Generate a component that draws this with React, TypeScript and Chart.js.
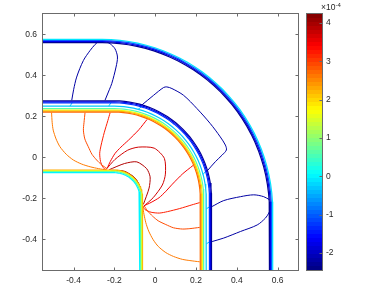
import React, { useEffect, useRef } from "react";
import { Chart, registerables } from "chart.js";

Chart.register(...registerables);

type P = [number, number];

const X_MIN = -0.55, X_MAX = 0.7, Y_MIN = -0.55, Y_MAX = 0.7;
const xTickValues = [-0.4, -0.2, 0, 0.2, 0.4, 0.6];
const yTickValues = [-0.4, -0.2, 0, 0.2, 0.4, 0.6];
const cbTickValues = [-2, -1, 0, 1, 2, 3, 4];
const CB_MIN = -2.44, CB_MAX = 4.23;

// boundary-layer contours: offset of the straight parts, level (x1e-4)
const innerBandOffsets = [-0.075, -0.07, -0.066, -0.062];
const innerBandLevels = [0.0, 0.8, 1.6, 2.3];
const innerBandCorner = -0.2;
const midBandOffsets = [0.221, 0.226, 0.231, 0.238, 0.25, 0.266, 0.271, 0.276];
const midBandLevels = [2.7, 2.2, 1.6, 0.6, -0.3, -1.3, -1.8, -2.3];
const midBandCorner = -0.2;
const outerBandOffsets = [0.56, 0.565, 0.57, 0.576];
const outerBandLevels = [-2.3, -1.7, -1.0, -0.1];
const outerBandCorner = -0.26;

// outer-region closed contours (level -2.2)
const lensTopA: P[] = [[-0.409, 0.279], [-0.4, 0.33], [-0.385, 0.392], [-0.352, 0.473], [-0.319, 0.522], [-0.295, 0.551], [-0.285, 0.56]];
const lensTopB: P[] = [[-0.246, 0.279], [-0.225, 0.33], [-0.213, 0.36], [-0.192, 0.441], [-0.185, 0.49], [-0.197, 0.53], [-0.221, 0.555], [-0.235, 0.562]];
const lensMid: P[] = [[-0.065, 0.256], [-0.008, 0.303], [0.041, 0.341], [0.057, 0.344], [0.082, 0.336], [0.139, 0.303], [0.205, 0.238], [0.27, 0.165], [0.319, 0.1], [0.344, 0.06], [0.349, 0.036], [0.328, 0.011], [0.295, -0.021], [0.256, -0.065]];
const lensSideA: P[] = [[0.279, -0.411], [0.336, -0.394], [0.418, -0.362], [0.5, -0.33], [0.54, -0.297], [0.557, -0.272], [0.562, -0.26]];
const lensSideB: P[] = [[0.279, -0.24], [0.336, -0.211], [0.418, -0.192], [0.483, -0.183], [0.532, -0.192], [0.562, -0.208]];
const lensLevel = -2.2;

// small kinks of the -0.3 contour at the junctions
const kinkA: P[] = [[-0.418, 0.25], [-0.406, 0.268]];
const kinkB: P[] = [[-0.228, 0.25], [-0.216, 0.268]];
const kinkC: P[] = [[-0.0835, 0.2347], [-0.066, 0.2485]];
const kinkD: P[] = [[0.2347, -0.0835], [0.2485, -0.066]];
const kinkE: P[] = [[0.25, -0.423], [0.268, -0.411]];
const kinkF: P[] = [[0.25, -0.252], [0.268, -0.24]];
const kinkLevel = -0.3;

// inner-region contours fanning from the re-entrant corner
const fanU1: P[] = [[-0.508, 0.218], [-0.505, 0.17], [-0.5, 0.133], [-0.486, 0.09], [-0.467, 0.052], [-0.436, 0.015], [-0.401, -0.013], [-0.36, -0.033], [-0.319, -0.046], [-0.278, -0.055], [-0.237, -0.062]];
const fanL1: P[] = [[0.218, -0.51], [0.17, -0.504], [0.133, -0.498], [0.09, -0.484], [0.052, -0.465], [0.015, -0.435], [-0.01, -0.402], [-0.032, -0.36], [-0.046, -0.319], [-0.055, -0.278], [-0.062, -0.237]];
const fanU2: P[] = [[-0.344, 0.218], [-0.349, 0.17], [-0.352, 0.133], [-0.345, 0.09], [-0.328, 0.052], [-0.31, 0.015], [-0.287, -0.013], [-0.262, -0.037], [-0.237, -0.054]];
const fanL2: P[] = [[0.218, -0.342], [0.17, -0.348], [0.133, -0.35], [0.09, -0.344], [0.052, -0.328], [0.015, -0.31], [-0.013, -0.287], [-0.037, -0.262], [-0.054, -0.237]];
const fanU3: P[] = [[-0.221, 0.218], [-0.232, 0.18], [-0.25, 0.12], [-0.265, 0.06], [-0.272, 0.02], [-0.268, -0.02], [-0.255, -0.05], [-0.24, -0.06]];
const fanL3: P[] = [[0.218, -0.221], [0.18, -0.232], [0.12, -0.25], [0.06, -0.265], [0.02, -0.272], [-0.02, -0.268], [-0.05, -0.255], [-0.06, -0.24]];
const fanU4: P[] = [[-0.04, 0.185], [-0.08, 0.135], [-0.131, 0.084], [-0.168, 0.05], [-0.197, 0.019], [-0.22, -0.02], [-0.235, -0.052]];
const fanL4: P[] = [[0.185, -0.04], [0.135, -0.08], [0.084, -0.131], [0.05, -0.168], [0.019, -0.197], [-0.02, -0.22], [-0.052, -0.235]];
const loopD1: P[] = [[-0.24, -0.058], [-0.197, -0.01], [-0.135, 0.035], [-0.082, 0.05], [-0.005, 0.045], [0.045, -0.005], [0.05, -0.082], [0.035, -0.135], [-0.01, -0.197], [-0.058, -0.24]];
const loopD2: P[] = [[-0.225, -0.06], [-0.15, -0.03], [-0.09, -0.022], [-0.042, -0.055], [-0.025, -0.095], [-0.03, -0.15], [-0.058, -0.23]];
const loopD3: P[] = [[-0.215, -0.063], [-0.15, -0.068], [-0.1, -0.1], [-0.072, -0.15], [-0.066, -0.215]];
const loopD4: P[] = [[-0.2, -0.064], [-0.155, -0.069], [-0.118, -0.087], [-0.09, -0.113], [-0.073, -0.15], [-0.066, -0.195]];

const fanLines: P[][] = [fanU1, fanL1, fanU2, fanL2, fanU3, fanL3, fanU4, fanL4, loopD1, loopD2, loopD3, loopD4];
const fanLevels = [2.6, 2.6, 2.9, 2.9, 3.2, 3.2, 3.45, 3.45, 3.7, 3.9, 4.05, 4.18];

const FONT = "'Liberation Sans', Arial, Helvetica, sans-serif";
const TEXT = "#262626";
const AXIS = "#6b6b6b";

function jet(v: number): string {
  const t = (v - CB_MIN) / (CB_MAX - CB_MIN);
  const f = (a: number) => Math.round(255 * Math.max(0, Math.min(1, a)));
  const r = f(Math.min(4 * t - 1.5, -4 * t + 4.5));
  const g = f(Math.min(4 * t - 0.5, -4 * t + 3.5));
  const b = f(Math.min(4 * t + 0.5, -4 * t + 2.5));
  return `rgb(${r},${g},${b})`;
}

function roundedL(d: number, c: number) {
  const r = d - c;
  const pts = [{ x: X_MIN, y: d }, { x: c, y: d }];
  const n = 30;
  for (let i = 1; i < n; i++) {
    const a = (Math.PI / 2) * (1 - i / n);
    pts.push({ x: c + r * Math.cos(a), y: c + r * Math.sin(a) });
  }
  pts.push({ x: d, y: c }, { x: d, y: Y_MIN });
  return pts;
}

const toXY = (p: P[]) => p.map(([x, y]) => ({ x, y }));

function boxPlugin(opts: { xTicks: number[] | null; yTicks: number[]; yLeft: boolean; yRight: boolean }) {
  return {
    id: "boxTicks",
    afterDraw(chart: any) {
      const { ctx, chartArea: a } = chart;
      ctx.save();
      ctx.strokeStyle = AXIS;
      ctx.lineWidth = 1;
      ctx.strokeRect(a.left - 0.5, a.top - 0.5, a.right - a.left + 1, a.bottom - a.top + 1);
      const L = 2.5;
      ctx.beginPath();
      if (opts.xTicks) {
        const sx = chart.scales.x;
        opts.xTicks.forEach((v) => {
          const px = Math.round(sx.getPixelForValue(v)) + 0.5;
          ctx.moveTo(px, a.bottom);
          ctx.lineTo(px, a.bottom - L);
          ctx.moveTo(px, a.top);
          ctx.lineTo(px, a.top + L);
        });
      }
      const sy = chart.scales.y;
      opts.yTicks.forEach((v) => {
        const py = Math.round(sy.getPixelForValue(v)) + 0.5;
        if (opts.yLeft) {
          ctx.moveTo(a.left, py);
          ctx.lineTo(a.left + L, py);
        }
        if (opts.yRight) {
          ctx.moveTo(a.right, py);
          ctx.lineTo(a.right - L, py);
        }
      });
      ctx.stroke();
      ctx.restore();
    },
  };
}

const fmt = (v: number) => String(Math.round(v * 10) / 10);

export default function App() {
  const mainRef = useRef<HTMLCanvasElement>(null);
  const cbRef = useRef<HTMLCanvasElement>(null);

  useEffect(() => {
    const datasets: any[] = [];
    const addBand = (offs: number[], lev: number[], c: number) =>
      offs.forEach((d, i) =>
        datasets.push({ data: roundedL(d, c), borderColor: jet(lev[i]), borderWidth: 1.2, tension: 0 })
      );
    addBand(outerBandOffsets, outerBandLevels, outerBandCorner);
    addBand(midBandOffsets, midBandLevels, midBandCorner);
    addBand(innerBandOffsets, innerBandLevels, innerBandCorner);
    [lensTopA, lensTopB, lensMid, lensSideA, lensSideB].forEach((l) =>
      datasets.push({ data: toXY(l), borderColor: jet(lensLevel), borderWidth: 1, tension: 0.3 })
    );
    [kinkA, kinkB, kinkC, kinkD, kinkE, kinkF].forEach((l) =>
      datasets.push({ data: toXY(l), borderColor: jet(kinkLevel), borderWidth: 1, tension: 0 })
    );
    fanLines.forEach((l, i) =>
      datasets.push({ data: toXY(l), borderColor: jet(fanLevels[i]), borderWidth: 1, tension: 0.25 })
    );
    datasets.forEach((d) => {
      d.showLine = true;
      d.pointRadius = 0;
      d.fill = false;
    });

    const tickFont = { family: FONT, size: 8.5 };
    const main = new Chart(mainRef.current!, {
      type: "scatter",
      data: { datasets },
      options: {
        animation: false,
        responsive: false,
        events: [],
        layout: { padding: { left: 0, top: 14, right: 84, bottom: 0 } },
        plugins: { legend: { display: false }, tooltip: { enabled: false } },
        scales: {
          x: {
            type: "linear",
            min: X_MIN,
            max: X_MAX,
            grid: { display: false, drawTicks: false },
            border: { display: false },
            afterBuildTicks: (s: any) => {
              s.ticks = xTickValues.map((v) => ({ value: v }));
            },
            afterFit: (s: any) => {
              s.height = 16;
            },
            ticks: { font: tickFont, color: TEXT, padding: 6, maxRotation: 0, autoSkip: false, callback: (v: any) => fmt(Number(v)) },
          },
          y: {
            type: "linear",
            min: Y_MIN,
            max: Y_MAX,
            grid: { display: false, drawTicks: false },
            border: { display: false },
            afterBuildTicks: (s: any) => {
              s.ticks = yTickValues.map((v) => ({ value: v }));
            },
            afterFit: (s: any) => {
              s.width = 43;
            },
            ticks: { font: tickFont, color: TEXT, padding: 6, autoSkip: false, callback: (v: any) => fmt(Number(v)) },
          },
        },
      } as any,
      plugins: [boxPlugin({ xTicks: xTickValues, yTicks: yTickValues, yLeft: true, yRight: true })],
    });

    const gradientFor = (chart: any) => {
      const a = chart.chartArea;
      if (!a) return jet(1);
      const g = chart.ctx.createLinearGradient(0, a.bottom, 0, a.top);
      const n = 64;
      for (let i = 0; i < n; i++) {
        const c = jet(CB_MIN + ((i + 0.5) / n) * (CB_MAX - CB_MIN));
        g.addColorStop(i / n, c);
        g.addColorStop((i + 1) / n, c);
      }
      return g;
    };

    const cb = new Chart(cbRef.current!, {
      type: "bar",
      data: {
        labels: [""],
        datasets: [
          {
            data: [[CB_MIN, CB_MAX]] as any,
            backgroundColor: (c: any) => gradientFor(c.chart),
            borderWidth: 0,
            barPercentage: 1,
            categoryPercentage: 1,
          },
        ],
      },
      options: {
        animation: false,
        responsive: false,
        events: [],
        layout: { padding: { left: 7, top: 14, right: 0, bottom: 16 } },
        plugins: { legend: { display: false }, tooltip: { enabled: false } },
        scales: {
          x: { display: false },
          y: {
            type: "linear",
            position: "right",
            min: CB_MIN,
            max: CB_MAX,
            grid: { display: false, drawTicks: false },
            border: { display: false },
            afterBuildTicks: (s: any) => {
              s.ticks = cbTickValues.map((v) => ({ value: v }));
            },
            afterFit: (s: any) => {
              s.width = 60;
            },
            ticks: { font: tickFont, color: TEXT, padding: 4, autoSkip: false, callback: (v: any) => String(v) },
          },
        },
      } as any,
      plugins: [boxPlugin({ xTicks: null, yTicks: cbTickValues, yLeft: false, yRight: true })],
    });

    return () => {
      main.destroy();
      cb.destroy();
    };
  }, []);

  return (
    <div style={{ position: "fixed", left: 0, top: 0, width: 382, height: 286, background: "#fff", overflow: "hidden" }}>
      <canvas ref={mainRef} width={382} height={286} style={{ position: "absolute", left: 0, top: 0, width: 382, height: 286 }} />
      <canvas ref={cbRef} width={82} height={286} style={{ position: "absolute", left: 300, top: 0, width: 82, height: 286 }} />
      <div style={{ position: "absolute", left: 321, top: 2, fontFamily: FONT, fontSize: 8.5, color: TEXT, lineHeight: "10px", whiteSpace: "nowrap" }}>
        ×10
        <span style={{ fontSize: 6, position: "relative", top: -3 }}>-4</span>
      </div>
    </div>
  );
}
